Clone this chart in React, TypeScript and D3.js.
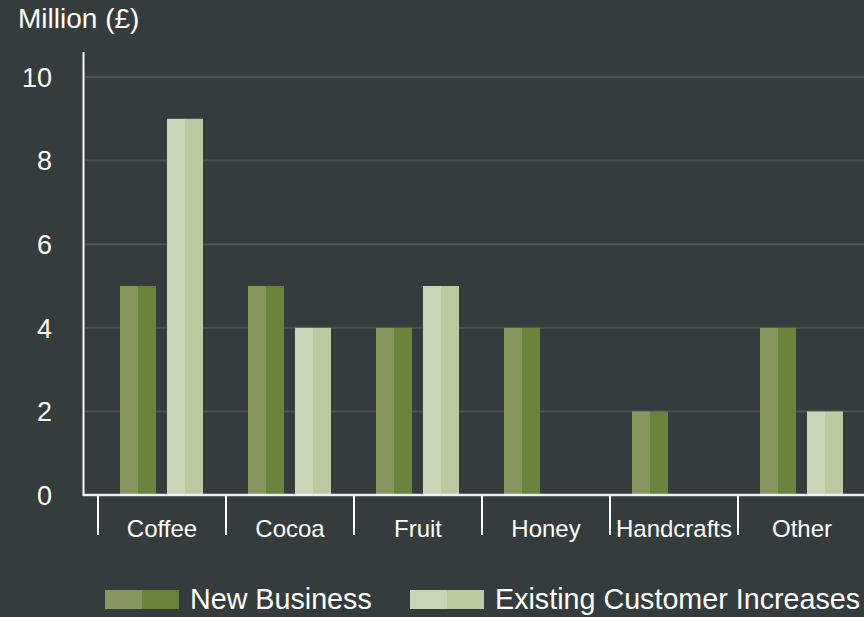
import React from "react";
import * as d3 from "d3";

const categories = ["Coffee", "Cocoa", "Fruit", "Honey", "Handcrafts", "Other"];
const seriesNames = ["New Business", "Existing Customer Increases"];
const newBusiness = [5, 5, 4, 4, 2, 4];
const existingIncreases = [9, 4, 5, 0, 0, 2];
const yTicks = [0, 2, 4, 6, 8, 10];

const W = 864;
const H = 617;
const BG = "#353c3e";
const seriesColors = [
  ["#87975f", "#68843b"],
  ["#c9d6b6", "#bbcb9f"],
];
const FONT = "'Liberation Sans', Arial, Helvetica, sans-serif";

export default function App() {
  const x0 = d3.scaleBand<string>().domain(categories).range([98, 866]);
  const x1 = d3
    .scaleBand<string>()
    .domain(seriesNames)
    .range([22, 105])
    .paddingInner(11 / 47)
    .paddingOuter(0);
  const y = d3.scaleLinear().domain([0, 10]).range([495, 77]);
  const seriesValues = [newBusiness, existingIncreases];
  const bw = x1.bandwidth();

  return (
    <svg
      width={W}
      height={H}
      style={{ position: "absolute", left: 0, top: 0, background: BG }}
    >
      <rect x={0} y={0} width={W} height={H} fill={BG} />
      <text x={18} y={28} fill="#ffffff" fontFamily={FONT} fontSize={28}>
        Million (£)
      </text>
      {/* gridlines */}
      {yTicks
        .filter((t) => t > 0)
        .map((t) => (
          <line
            key={"g" + t}
            x1={85}
            x2={W}
            y1={y(t)}
            y2={y(t)}
            stroke="#4b5452"
            strokeWidth={2}
          />
        ))}
      {/* y tick labels */}
      {yTicks.map((t) => (
        <text
          key={"yt" + t}
          x={52}
          y={y(t)}
          dy="0.36em"
          textAnchor="end"
          fill="#ffffff"
          fontFamily={FONT}
          fontSize={27}
        >
          {t}
        </text>
      ))}
      {/* bars */}
      {categories.map((c, ci) =>
        seriesNames.map((s, si) => {
          const v = seriesValues[si][ci];
          if (!v) return null;
          const bx = (x0(c) ?? 0) + (x1(s) ?? 0);
          const top = y(v);
          const h = y(0) - top;
          return (
            <g key={c + s}>
              <rect x={bx} y={top} width={bw / 2} height={h} fill={seriesColors[si][0]} />
              <rect x={bx + bw / 2} y={top} width={bw / 2} height={h} fill={seriesColors[si][1]} />
            </g>
          );
        })
      )}
      {/* y axis */}
      <line x1={83.5} x2={83.5} y1={52} y2={496} stroke="#ffffff" strokeWidth={2} />
      {/* baseline */}
      <line x1={83} x2={W} y1={495} y2={495} stroke="#eeeef4" strokeWidth={2.5} />
      {/* category ticks and labels */}
      {categories.map((c) => {
        const bx = x0(c) ?? 0;
        return (
          <g key={"c" + c}>
            <line
              x1={bx}
              x2={bx}
              y1={496}
              y2={535}
              stroke="#ffffff"
              strokeWidth={2}
            />
            <text
              x={bx + x0.bandwidth() / 2}
              y={537}
              textAnchor="middle"
              fill="#ffffff"
              fontFamily={FONT}
              fontSize={24}
            >
              {c}
            </text>
          </g>
        );
      })}
      {/* legend */}
      {seriesNames.map((s, si) => {
        const lx = si === 0 ? 105 : 410;
        return (
          <g key={"l" + s}>
            <rect x={lx} y={590} width={37} height={19} fill={seriesColors[si][0]} />
            <rect x={lx + 37} y={590} width={37} height={19} fill={seriesColors[si][1]} />
            <text
              x={lx + 85}
              y={609}
              fill="#ffffff"
              fontFamily={FONT}
              fontSize={28.7}
            >
              {s}
            </text>
          </g>
        );
      })}
    </svg>
  );
}
